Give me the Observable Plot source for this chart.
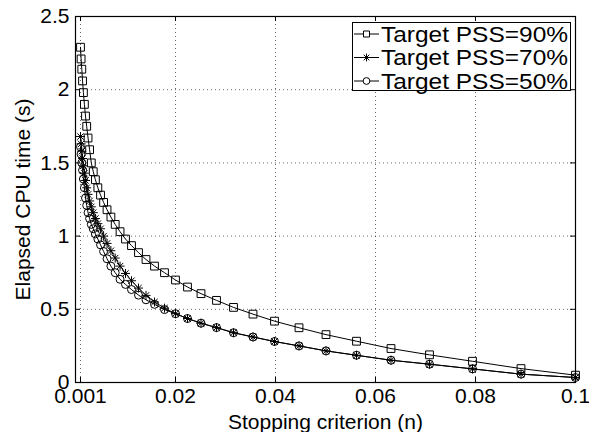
<!DOCTYPE html>
<html>
<head>
<meta charset="utf-8">
<script src="https://cdn.jsdelivr.net/npm/d3@7"></script>
<script src="https://cdn.jsdelivr.net/npm/@observablehq/plot@0.6"></script>
<style>
  html, body { margin: 0; padding: 0; background: #fff; }
  #wrap { position: relative; width: 589px; height: 432px; }
  #legend { position: absolute; left: 0; top: 0; }
</style>
</head>
<body>
<div id="wrap"></div>
<script>
// ---- data ----
const stoppingCriterion = [0.001, 0.00112, 0.00126, 0.00141, 0.00158, 0.00178, 0.002, 0.00224, 0.00251, 0.00282,
  0.00316, 0.00355, 0.00398, 0.00447, 0.00501, 0.00562, 0.00631, 0.00708, 0.00794, 0.00891,
  0.01, 0.0112, 0.0126, 0.0141, 0.0158, 0.0178, 0.02, 0.0224, 0.0251, 0.0282,
  0.0316, 0.0355, 0.0398, 0.0447, 0.0501, 0.0562, 0.0631, 0.0708, 0.0794, 0.0891, 0.1];
const pss90 = [2.29, 2.21, 2.14, 2.06, 1.98, 1.90, 1.82, 1.75, 1.67, 1.59,
  1.50, 1.44, 1.385, 1.33, 1.28, 1.23, 1.18, 1.13, 1.08, 1.03,
  0.98, 0.935, 0.887, 0.84, 0.795, 0.75, 0.70, 0.652, 0.607, 0.561,
  0.513, 0.467, 0.419, 0.374, 0.327, 0.282, 0.232, 0.189, 0.145, 0.095, 0.05];
const pss70 = [1.68, 1.63, 1.58, 1.53, 1.48, 1.43, 1.38, 1.33, 1.285, 1.24,
  1.20, 1.16, 1.12, 1.085, 1.05, 1.00, 0.95, 0.90, 0.85, 0.795,
  0.745, 0.695, 0.645, 0.595, 0.55, 0.508, 0.47, 0.437, 0.405, 0.375,
  0.34, 0.311, 0.28, 0.25, 0.216, 0.186, 0.152, 0.125, 0.093, 0.057, 0.034];
const pss50 = [1.61, 1.56, 1.50, 1.45, 1.39, 1.33, 1.26, 1.21, 1.16, 1.12,
  1.08, 1.05, 1.015, 0.98, 0.94, 0.895, 0.845, 0.795, 0.75, 0.705,
  0.67, 0.635, 0.597, 0.565, 0.534, 0.498, 0.47, 0.437, 0.405, 0.375,
  0.34, 0.311, 0.28, 0.25, 0.216, 0.186, 0.152, 0.125, 0.093, 0.057, 0.034];
const seriesNames = ["Target PSS=90%", "Target PSS=70%", "Target PSS=50%"];
const xTicks = [0.001, 0.02, 0.04, 0.06, 0.08, 0.1];
const xTickLabels = ["0.001", "0.02", "0.04", "0.06", "0.08", "0.1"];
const yTicks = [0, 0.5, 1, 1.5, 2, 2.5];
const yTickLabels = ["0", "0.5", "1", "1.5", "2", "2.5"];
const xLabel = "Stopping criterion (n)";
const yLabel = "Elapsed CPU time (s)";

// ---- build table ----
const seriesValues = [pss90, pss70, pss50];
const rows = [];
seriesValues.forEach((vals, s) => vals.forEach((v, i) => rows.push({series: seriesNames[s], x: stoppingCriterion[i], y: v})));
const bySeries = name => rows.filter(r => r.series === name);

const W = 589, H = 432;
const mL = 75, mR = 14, mT = 16, mB = 50;
const plotW = W - mL - mR, plotH = H - mT - mB;
const font = "'Liberation Sans', Arial, Helvetica, sans-serif";
const tickLen = 5;

const chart = Plot.plot({
  width: W, height: H,
  marginLeft: mL, marginRight: mR, marginTop: mT, marginBottom: mB,
  x: {domain: [0, 0.1]},
  y: {domain: [0, 2.5]},
  style: {fontFamily: font, fontSize: "21px", color: "#000", background: "#fff", overflow: "visible"},
  marks: [
    // dotted grid
    Plot.ruleX(xTicks.filter(d => d > 0 && d < 0.1), {stroke: "#000", strokeOpacity: 0.6, strokeDasharray: "1,3"}),
    Plot.ruleY(yTicks.filter(d => d > 0 && d < 2.5), {stroke: "#000", strokeOpacity: 0.6, strokeDasharray: "1,3"}),
    // inner ticks on all four sides
    Plot.ruleX(xTicks, {stroke: "#000", insetTop: plotH - tickLen}),
    Plot.ruleX(xTicks, {stroke: "#000", insetBottom: plotH - tickLen}),
    Plot.ruleY(yTicks, {stroke: "#000", insetRight: plotW - tickLen}),
    Plot.ruleY(yTicks, {stroke: "#000", insetLeft: plotW - tickLen}),
    Plot.frame({stroke: "#000", strokeWidth: 1.2}),
    Plot.axisX({ticks: xTicks, tickFormat: d => xTickLabels[xTicks.indexOf(d)], tickSize: 0, tickPadding: 6, label: null}),
    Plot.axisY({ticks: yTicks, tickFormat: d => yTickLabels[yTicks.indexOf(d)], tickSize: 0, tickPadding: 6, label: null}),
    // series lines
    Plot.line(bySeries(seriesNames[0]), {x: "x", y: "y", stroke: "#000", strokeWidth: 1}),
    Plot.line(bySeries(seriesNames[1]), {x: "x", y: "y", stroke: "#000", strokeWidth: 1}),
    Plot.line(bySeries(seriesNames[2]), {x: "x", y: "y", stroke: "#000", strokeWidth: 1}),
    // markers
    Plot.dot(bySeries(seriesNames[0]), {x: "x", y: "y", symbol: "square", r: 4.4, stroke: "#000", fill: "none", strokeWidth: 1}),
    Plot.dot(bySeries(seriesNames[1]), {x: "x", y: "y", symbol: "plus", r: 3.0, stroke: "#000", fill: "none", strokeWidth: 1}),
    Plot.dot(bySeries(seriesNames[1]), {x: "x", y: "y", symbol: "times", r: 3.0, stroke: "#000", fill: "none", strokeWidth: 1}),
    Plot.dot(bySeries(seriesNames[2]), {x: "x", y: "y", symbol: "circle", r: 4, stroke: "#000", fill: "none", strokeWidth: 1}),
    // axis titles
    Plot.text([xLabel], {text: d => d, frameAnchor: "bottom", dy: 46, lineAnchor: "bottom", fontSize: 21}),
    Plot.text([yLabel], {text: d => d, frameAnchor: "left", dx: -52, rotate: -90, textAnchor: "middle", lineAnchor: "middle", fontSize: 21})
  ]
});
const wrap = document.getElementById("wrap");
wrap.appendChild(chart);

// ---- legend overlay (inside the plot, top-right) ----
const leg = d3.select(wrap).append("svg").attr("id", "legend").attr("width", W).attr("height", H)
  .style("font-family", font).style("pointer-events", "none");
const lx0 = 352, ly0 = 22, lw = 218, lh = 68, rowH = 23.5;
const lg = leg.append("g");
lg.append("rect").attr("x", lx0 + 0.5).attr("y", ly0 + 0.5).attr("width", lw).attr("height", lh)
  .attr("fill", "#fff").attr("stroke", "#000").attr("stroke-width", 1);
const markers = [
  [d3.symbol(d3.symbolSquare, 36)],
  [d3.symbol(d3.symbolPlus, 22), d3.symbol(d3.symbolTimes, 22)],
  [d3.symbol(d3.symbolCircle, 36)]
];
seriesNames.forEach((name, i) => {
  const cy = ly0 + 12 + i * rowH;
  const g = lg.append("g").attr("transform", `translate(${lx0 + 2},${cy})`);
  g.append("line").attr("x1", 0).attr("x2", 25).attr("y1", 0).attr("y2", 0).attr("stroke", "#000");
  markers[i].forEach(m => g.append("path").attr("d", m()).attr("transform", "translate(12.5,0)")
    .attr("fill", i === 1 ? "none" : "#fff").attr("stroke", "#000"));
  g.append("text").attr("x", 27).attr("y", 0).attr("dy", "0.36em").attr("font-size", 22)
    .attr("textLength", 187).attr("lengthAdjust", "spacingAndGlyphs").text(name);
});
</script>
</body>
</html>
